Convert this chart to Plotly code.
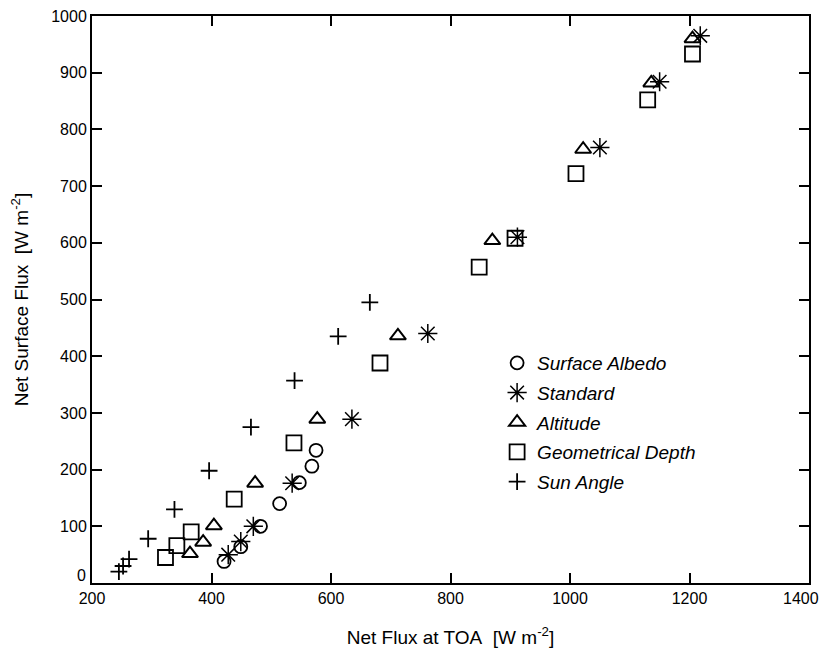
import plotly.graph_objects as go

# Net flux at the top of the atmosphere vs. net surface flux, W m-2
albedo_x = [421, 449, 482, 514, 547, 568, 575]
albedo_y = [38, 64, 100, 140, 177, 206, 234]

standard_x = [428, 449, 470, 535, 635, 762, 912, 1050, 1150, 1218]
standard_y = [50, 73, 100, 176, 289, 440, 610, 768, 884, 965]

altitude_x = [364, 386, 404, 473, 577, 712, 870, 1022, 1136, 1205]
altitude_y = [52, 72, 101, 176, 289, 436, 604, 765, 882, 960]

depth_x = [323, 342, 366, 438, 538, 682, 848, 908, 1010, 1130, 1205]
depth_y = [45, 66, 90, 148, 247, 388, 557, 608, 722, 852, 933]

sun_x = [245, 252, 262, 294, 338, 396, 466, 539, 612, 665]
sun_y = [20, 30, 42, 78, 130, 198, 275, 357, 435, 495]

x_ticks = [200, 400, 600, 800, 1000, 1200, 1400]
y_ticks = [0, 100, 200, 300, 400, 500, 600, 700, 800, 900, 1000]

FONT = "Liberation Sans, Arial, Helvetica, sans-serif"

series = [
    ("Surface Albedo", albedo_x, albedo_y, "circle-open", 13, 1.8),
    ("Standard", standard_x, standard_y, "asterisk-open", 16, 1.5),
    ("Altitude", altitude_x, altitude_y, "triangle-up-open", 14, 2.0),
    ("Geometrical Depth", depth_x, depth_y, "square-open", 15, 1.8),
    ("Sun Angle", sun_x, sun_y, "cross-thin-open", 12, 1.8),
]

fig = go.Figure()
for name, xs, ys, sym, size, lw in series:
    fig.add_trace(go.Scatter(
        x=xs, y=ys, mode="markers", name=f"<i>{name}</i>",
        legendgroup=name,
        marker=dict(symbol=sym, size=size, color="black",
                    line=dict(color="black", width=lw)),
    ))

axis_common = dict(
    showgrid=False, zeroline=False, automargin=False,
    showline=True, linecolor="black", linewidth=2,
    mirror="ticks", ticks="inside", ticklen=10, tickwidth=1.5,
    tickcolor="black",
    tickfont=dict(family=FONT, size=16, color="black"),
)

# the last x label and the zero y label are placed by hand so they stay inside the page
x_last = x_ticks[-1]
fig.update_xaxes(
    range=[200, 1400], tickvals=x_ticks,
    ticktext=["" if v == x_last else str(v) for v in x_ticks],
    title=dict(text="Net Flux at TOA\u00a0\u00a0[W m<sup>-2</sup>]",
               font=dict(family=FONT, size=19, color="black"), standoff=24),
    **axis_common,
)
fig.update_yaxes(
    range=[0, 1000], tickvals=y_ticks,
    ticktext=["" if v == 0 else str(v) for v in y_ticks],
    title=dict(text="Net Surface Flux\u00a0\u00a0[W m<sup>-2</sup>]",
               font=dict(family=FONT, size=19, color="black"), standoff=18),
    **axis_common,
)

fig.add_annotation(
    x=0, xref="paper", y=y_ticks[0], yref="y", text=str(y_ticks[0]),
    showarrow=False, xanchor="right", yanchor="middle", xshift=-4, yshift=8,
    font=dict(family=FONT, size=16, color="black"),
)
fig.add_annotation(
    x=x_last, xref="x", y=0, yref="paper", text=str(x_last),
    showarrow=False, xanchor="right", yanchor="middle", xshift=12, yshift=-15,
    font=dict(family=FONT, size=16, color="black"),
)

fig.update_layout(
    width=822, height=651,
    margin=dict(l=92, r=13, t=16, b=68),
    paper_bgcolor="white", plot_bgcolor="white",
    showlegend=True,
    legend=dict(
        x=0.565, y=0.4215, xanchor="left", yanchor="top",
        bgcolor="rgba(0,0,0,0)", tracegroupgap=2,
        font=dict(family=FONT, size=19, color="black"),
        traceorder="grouped",
    ),
)

fig.write_html("out.html")
